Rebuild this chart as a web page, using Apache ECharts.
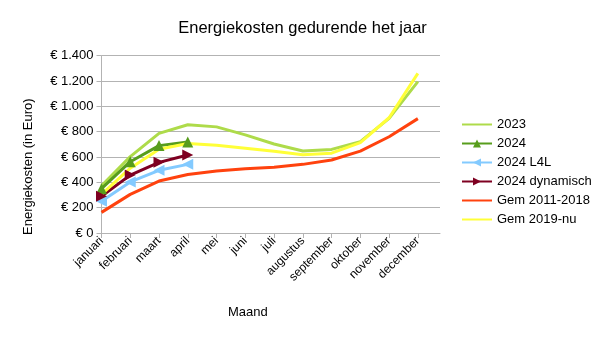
<!DOCTYPE html>
<html><head><meta charset="utf-8">
<script src="https://cdn.jsdelivr.net/npm/echarts@6/dist/echarts.min.js"></script>
<style>html,body{margin:0;padding:0;background:#fff}#c{width:605px;height:341px}</style>
</head><body><div id="c"></div>
<script>
const months = ['januari','februari','maart','april','mei','juni','juli','augustus','september','oktober','november','december'];
const yTicks = [0,200,400,600,800,1000,1200,1400];
const s2023 = [372, 603, 787, 855, 838, 775, 703, 647, 660, 721, 905, 1195];
const s2024 = [350, 563, 690, 718];
const s2024L4L = [250, 403, 495, 542];
const s2024dyn = [290, 457, 558, 616];
const gem1118 = [163, 305, 410, 462, 490, 508, 520, 542, 576, 647, 760, 903];
const gem19nu = [305, 512, 661, 706, 692, 670, 645, 618, 630, 714, 910, 1260];

const pts = arr => arr.map((v,i)=>[i,v]);
const fmt = v => '€ ' + String(v).replace(/\B(?=(\d{3})+(?!\d))/g,'.');
const font = 'Liberation Sans';
const plain = {itemStyle:{opacity:0}};

const chart = echarts.init(document.getElementById('c'), null, {renderer:'canvas'});
chart.setOption({
  animation:false,
  backgroundColor:'#fff',
  textStyle:{fontFamily:font},
  title:{text:'Energiekosten gedurende het jaar', left:'center', top:15,
    textStyle:{fontFamily:font, fontSize:16.5, fontWeight:'normal', color:'#000'}},
  grid:{left:101.5, right:165, top:55.7, bottom:108},
  legend:{orient:'vertical', left:456, top:113, itemWidth:30, itemHeight:10, itemGap:6,
    textStyle:{fontFamily:font, fontSize:13, color:'#000'},
    data:[Object.assign({name:'2023'},plain),'2024','2024 L4L','2024 dynamisch',
      Object.assign({name:'Gem 2011-2018'},plain),Object.assign({name:'Gem 2019-nu'},plain)]},
  graphic:[
    {type:'text', left:228, top:306, style:{text:'Maand', font:'13px "Liberation Sans"', fill:'#000'}},
    {type:'text', x:28, y:235, rotation:Math.PI/2,
      style:{text:'Energiekosten (in Euro)', font:'13px "Liberation Sans"', fill:'#000', align:'left', verticalAlign:'middle'}}
  ],
  xAxis:{type:'value', min:0, max:11.77,
    axisLine:{show:true, onZero:false, lineStyle:{color:'#b3b3b3'}},
    axisTick:{show:true, customValues:months.map((m,i)=>i), lineStyle:{color:'#b3b3b3'}, length:5},
    axisLabel:{customValues:months.map((m,i)=>i), formatter:v=>months[v], rotate:45, fontSize:12, color:'#000', fontFamily:font, margin:6},
    splitLine:{show:false}},
  yAxis:{type:'value', min:0, max:1400, interval:200,
    axisLine:{show:true, lineStyle:{color:'#b3b3b3'}},
    axisTick:{show:true, length:5, lineStyle:{color:'#b3b3b3'}},
    axisLabel:{formatter:v=>fmt(v), fontSize:13, color:'#000', fontFamily:font, margin:8},
    splitLine:{show:true, lineStyle:{color:'#b3b3b3', width:1}}},
  series:[
    {name:'2023', type:'line', data:pts(s2023), symbol:'none',
      lineStyle:{width:3, color:'#aedb4a'}, itemStyle:{color:'#aedb4a'}},
    {name:'2024', type:'line', data:pts(s2024), symbol:'triangle', symbolSize:11,
      lineStyle:{width:3, color:'#579d1c'}, itemStyle:{color:'#579d1c'}},
    {name:'2024 L4L', type:'line', data:pts(s2024L4L), symbol:'triangle', symbolRotate:90, symbolSize:11,
      lineStyle:{width:3, color:'#83caff'}, itemStyle:{color:'#83caff'}},
    {name:'2024 dynamisch', type:'line', data:pts(s2024dyn), symbol:'triangle', symbolRotate:-90, symbolSize:11,
      lineStyle:{width:3, color:'#7e0021'}, itemStyle:{color:'#7e0021'}},
    {name:'Gem 2011-2018', type:'line', data:pts(gem1118), symbol:'none',
      lineStyle:{width:3, color:'#ff420e'}, itemStyle:{color:'#ff420e'}},
    {name:'Gem 2019-nu', type:'line', data:pts(gem19nu), symbol:'none',
      lineStyle:{width:3, color:'#ffff38'}, itemStyle:{color:'#ffff38'}}
  ]
});
</script></body></html>
